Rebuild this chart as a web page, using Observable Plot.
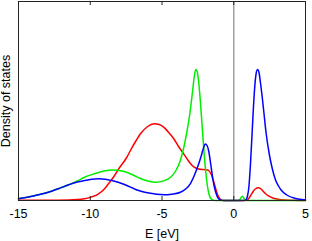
<!DOCTYPE html>
<html>
<head>
<meta charset="utf-8">
<script src="https://cdn.jsdelivr.net/npm/d3@7"></script>
<script src="https://cdn.jsdelivr.net/npm/@observablehq/plot@0.6"></script>
<style>
  html, body { margin: 0; padding: 0; background: #fff; }
  #chart svg { display: block; }
</style>
</head>
<body>
<div id="chart"></div>
<script>
const xTicks = [-15, -10, -5, 0, 5];

const redE   = [-15, -13, -11.5, -10.4, -9.9, -9.42, -9.05, -8.73, -8.35, -8.0, -7.46, -7.2, -6.8, -6.5, -6.0, -5.58, -5.2, -4.88, -4.5, -4.18, -3.85, -3.49, -3.2, -2.9, -2.65, -2.44, -2.2, -2.0, -1.8, -1.6, -1.4, -1.2, -1.05, -0.9, -0.75, -0.4, 0.6, 0.9, 1.05, 1.2, 1.35, 1.5, 1.72, 1.9, 2.05, 2.22, 2.45, 2.68, 3.0, 3.3, 4.0, 5];
const redDos = [0.3, 0.3, 0.6, 1.7, 3.6, 6.7, 11, 16.7, 24, 32, 43, 50, 60, 66.7, 74, 76.7, 76, 73.3, 67.5, 61.7, 54, 46.7, 40.5, 35, 32.5, 31.5, 31, 30.8, 30.5, 27, 19, 9, 3.3, 0.8, 0.1, 0, 0, 0.3, 2, 5.5, 9, 11.5, 12.7, 11.5, 9.3, 6.7, 4.3, 2.7, 1.4, 0.7, 0.2, 0];

const greenE   = [-15, -14.3, -13.6, -12.7, -12.1, -11.5, -10.9, -10.4, -9.9, -9.42, -8.95, -8.5, -8.1, -7.7, -7.3, -6.9, -6.5, -6.0, -5.4, -4.9, -4.4, -4.05, -3.72, -3.45, -3.25, -3.05, -2.88, -2.75, -2.65, -2.55, -2.44, -2.32, -2.2, -2.08, -1.96, -1.84, -1.72, -1.6, -1.45, -1.3, 0.3, 0.45, 0.6, 0.75, 0.9, 5];
const greenDos = [2, 3.6, 5.7, 9.3, 12.4, 15.7, 19.6, 23.3, 25.9, 28, 29.7, 30.5, 30.2, 29.2, 27.3, 24.7, 22, 19.5, 18.3, 19.6, 23.3, 29.5, 40, 55, 70, 88, 108, 124, 131, 129, 118, 98, 74, 50, 30, 15, 6, 2, 0.4, 0, 0, 1.5, 4.3, 1.2, 0, 0];

const blueE   = [-15, -14.3, -13.6, -12.7, -12.1, -11.5, -10.9, -10.4, -9.9, -9.42, -8.95, -8.5, -8.0, -7.57, -7.1, -6.74, -6.2, -5.58, -5.1, -4.64, -4.2, -3.72, -3.35, -3.03, -2.75, -2.44, -2.28, -2.12, -1.98, -1.86, -1.74, -1.62, -1.51, -1.4, -1.28, -1.16, -1.05, -0.9, -0.7, 0.7, 0.85, 0.95, 1.05, 1.16, 1.26, 1.36, 1.46, 1.56, 1.66, 1.76, 1.86, 1.98, 2.1, 2.25, 2.48, 2.7, 2.9, 3.1, 3.3, 3.7, 4.3, 5];
const blueDos = [1.7, 3.4, 5.7, 9.3, 12.4, 15.7, 18.5, 20, 21.2, 21.7, 21.3, 20, 18, 15.7, 12.8, 10.5, 8.3, 6.7, 6, 5.7, 6.5, 8.3, 11.5, 16.7, 25, 36.7, 44, 52, 56.5, 55, 49, 38, 26.7, 17, 9.5, 4.3, 1.7, 0.4, 0, 0, 0.6, 4, 13, 35, 62, 90, 113, 127, 131, 128, 118, 104, 88, 68, 46, 31, 21, 15, 10.5, 5.5, 2, 0.5];

const toRows = (E, D) => E.map((e, i) => ({E: e, dos: D[i]}));
const red = toRows(redE, redDos);
const green = toRows(greenE, greenDos);
const blue = toRows(blueE, blueDos);

const W = 312, H = 241;
const mTop = 1, mBottom = 41, mLeft = 18, mRight = 7;
const plotH = H - mTop - mBottom;

const chart = Plot.plot({
  width: W,
  height: H,
  marginTop: mTop,
  marginBottom: mBottom,
  marginLeft: mLeft,
  marginRight: mRight,
  style: {fontFamily: "Liberation Sans, Arial, sans-serif", fontSize: "12px", color: "#000", background: "#fff"},
  x: {domain: [-15, 5]},
  y: {domain: [0, 199]},
  marks: [
    Plot.ruleX([0], {stroke: "#a0a0a0", strokeWidth: 1.5}),
    Plot.line(red, {x: "E", y: "dos", stroke: "#ff0000", strokeWidth: 1.5, curve: "monotone-x"}),
    Plot.line(green, {x: "E", y: "dos", stroke: "#00ee00", strokeWidth: 1.5, curve: "monotone-x"}),
    Plot.line(blue, {x: "E", y: "dos", stroke: "#0000ff", strokeWidth: 1.5, curve: "monotone-x"}),
    Plot.ruleX(xTicks, {x: d => d, stroke: "#222", insetTop: plotH - 4}),
    Plot.ruleX(xTicks, {x: d => d, stroke: "#222", insetBottom: plotH - 4}),
    Plot.frame({stroke: "#222"}),
    Plot.axisX(xTicks, {tickSize: 0, tickPadding: 9, tickFormat: d => String(d).replace("\u2212", "-"), label: "E [eV]", labelAnchor: "center", labelArrow: "none", labelOffset: 37, fontSize: 12.5}),
    Plot.axisY([], {label: "Density of states", labelAnchor: "center", labelArrow: "none", labelOffset: 17, fontSize: 12.5})
  ]
});
document.getElementById("chart").appendChild(chart);
</script>
</body>
</html>
